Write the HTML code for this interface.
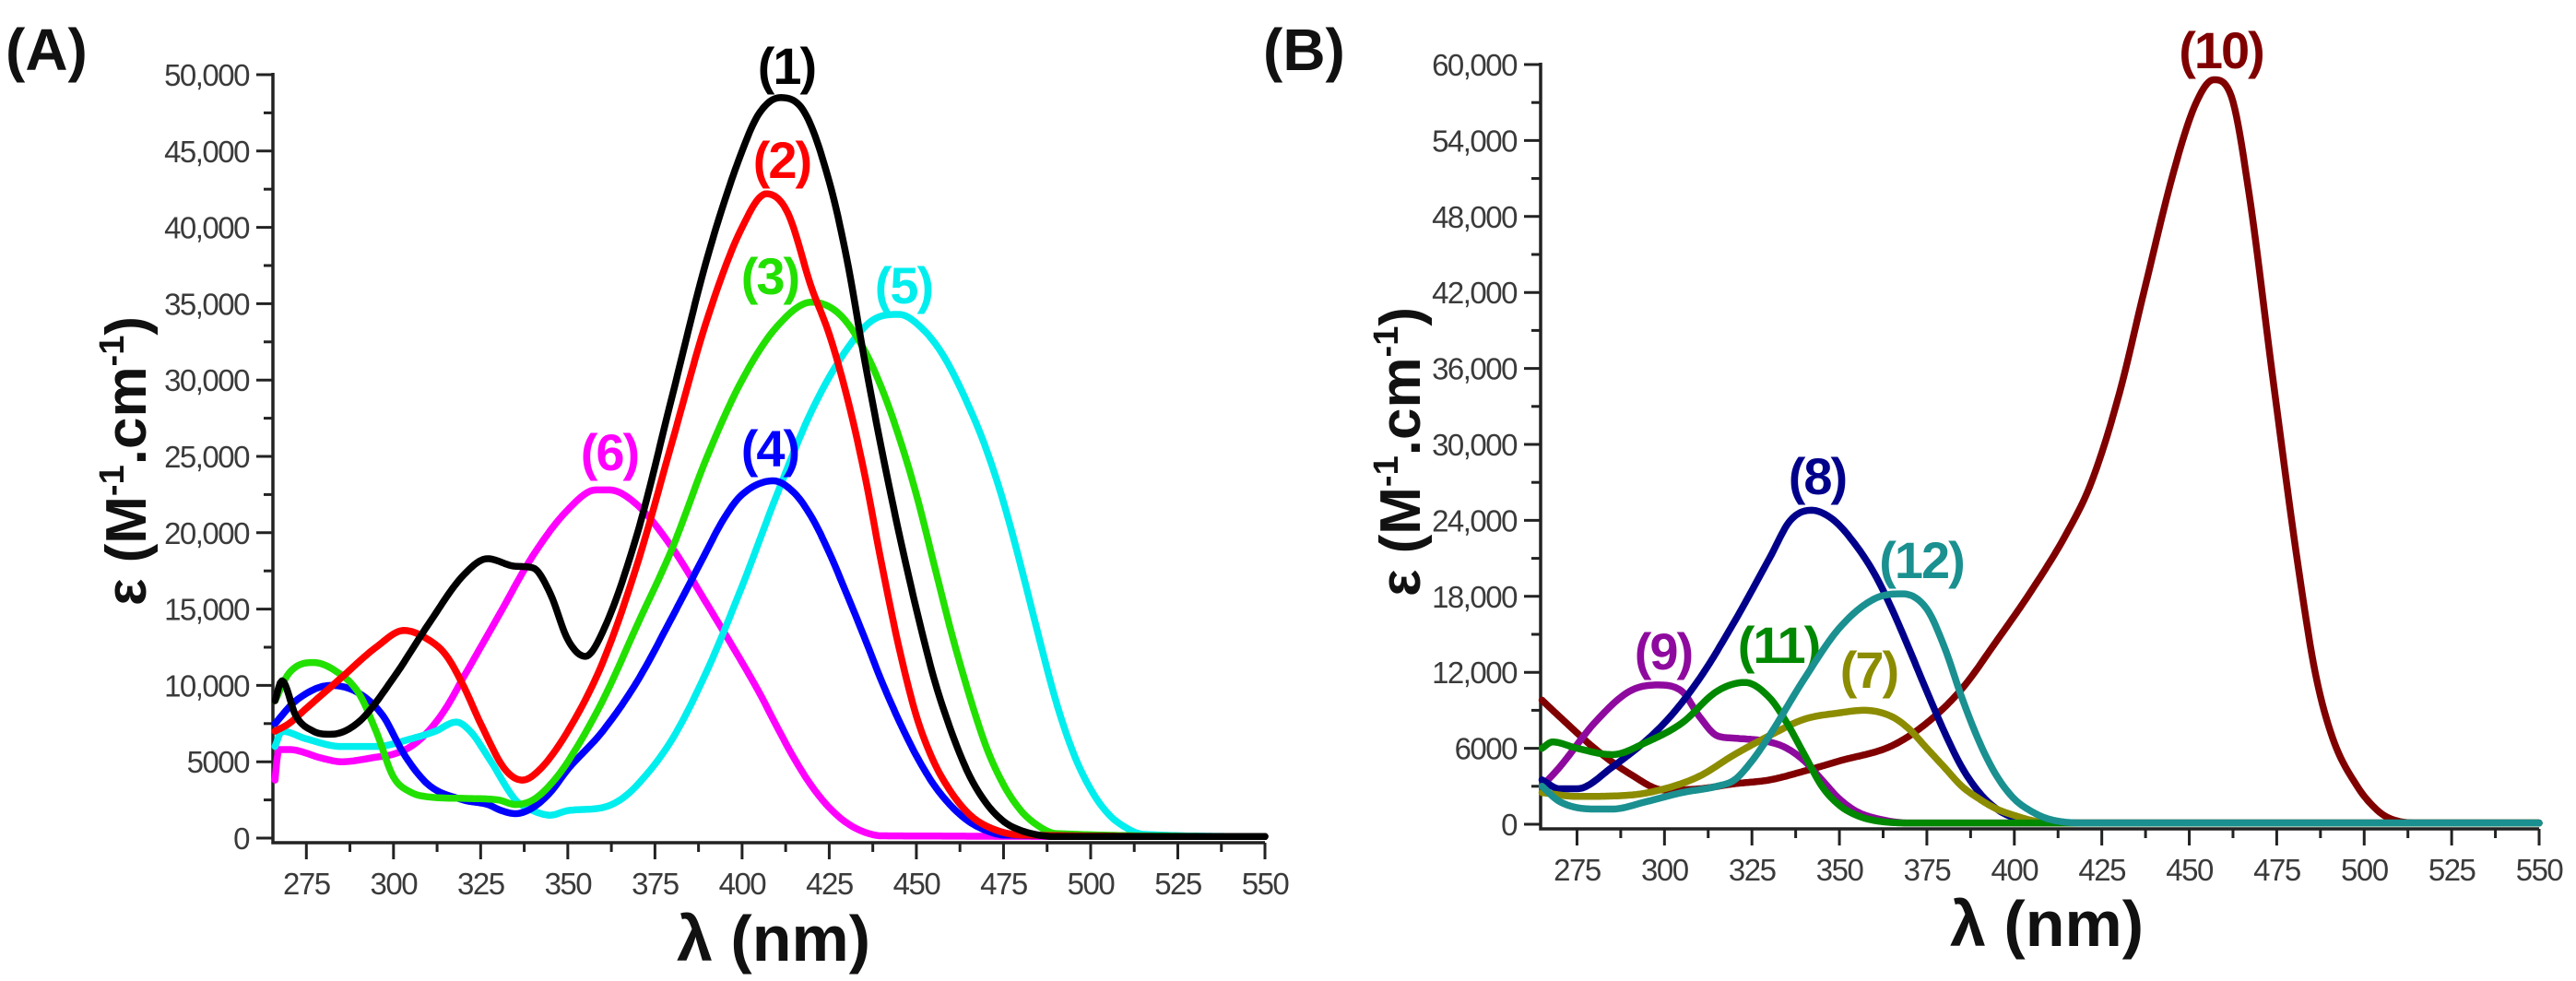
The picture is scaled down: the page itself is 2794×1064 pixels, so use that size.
<!DOCTYPE html>
<html><head><meta charset="utf-8"><style>
html,body{margin:0;padding:0;background:#fff;}
svg{display:block;}
.tk{font-family:"Liberation Sans Narrow","Liberation Sans",sans-serif;font-size:33px;fill:#3a3a3a;letter-spacing:-1.5px;}
.ttl{font-family:"Liberation Sans",sans-serif;font-weight:bold;fill:#111;}
.lbl{font-family:"Liberation Sans",sans-serif;font-weight:bold;font-size:56px;letter-spacing:-2px;}
</style></head><body>
<svg id="chart" width="2794" height="1064" viewBox="0 0 2794 1064" xmlns="http://www.w3.org/2000/svg">
<text class="ttl" x="6" y="76" font-size="64">(A)</text>
<text class="ttl" x="1370" y="76" font-size="64">(B)</text>
<text class="ttl" font-size="62" transform="translate(158,500) rotate(-90)" text-anchor="middle">ε (M<tspan font-size="38" dy="-24">-1</tspan><tspan dy="24">.cm</tspan><tspan font-size="38" dy="-24">-1</tspan><tspan dy="24">)</tspan></text>
<text class="ttl" font-size="70" x="839" y="1042" text-anchor="middle">λ (nm)</text>
<text class="ttl" font-size="62" transform="translate(1540,490) rotate(-90)" text-anchor="middle">ε (M<tspan font-size="38" dy="-24">-1</tspan><tspan dy="24">.cm</tspan><tspan font-size="38" dy="-24">-1</tspan><tspan dy="24">)</tspan></text>
<text class="ttl" font-size="70" x="2220" y="1026" text-anchor="middle">λ (nm)</text>
<g id="gA"></g><g id="gB"></g>
</svg>
<script>
// ---- Panel A data (wavelength nm, epsilon in thousands) ----
const xTicksA = [275,300,325,350,375,400,425,450,475,500,525,550];
const yTicksA = [0,5000,10000,15000,20000,25000,30000,35000,40000,45000,50000];
const yTickLabelsA = ["0","5000","10,000","15,000","20,000","25,000","30,000","35,000","40,000","45,000","50,000"];
const s1x = [266,268,272,277,282,290,300,310,320,327,335,340,345,350,355,360,370,380,390,400,405,411,418,425,430,435,440,445,450,455,460,465,470,475,480,490,550];
const s1y = [9,10.3,8,7,6.8,7.6,10.5,14,17.2,18.3,17.8,17.7,16,13,11.9,13.5,20,29,38,45,47.5,48.5,47.5,43,38,31.5,25.5,20,15,10.5,7,4.2,2.3,1.1,0.5,0.1,0.1];
const s2x = [266,270,275,285,295,303,310,315,320,325,332,337,342,350,360,370,380,390,400,407,413,420,425,430,435,440,445,450,455,460,465,470,480,550];
const s2y = [7,7.5,8.5,10.5,12.5,13.6,13,12,10,7.5,4.5,3.8,4.5,7,11.5,18,26,34,40,42.2,41,36,33,29,24,18,12.5,8,5,3,1.6,0.8,0.2,0.1];
const s3x = [266,270,277,283,290,295,300,305,310,320,330,335,340,345,350,360,370,380,390,400,410,420,428,435,440,445,450,455,460,465,470,475,480,485,490,550];
const s3y = [9,10.8,11.5,11,9.5,7,4,3,2.7,2.6,2.5,2.2,2.5,3.5,5,9,14,19,25,30,33.5,35.1,34.3,32,29.5,26.3,22.5,18,13.5,9.5,6,3.5,1.8,0.8,0.3,0.1];
const s4x = [266,272,282,290,297,303,310,320,327,331,335,340,345,350,360,370,380,388,395,400,409,415,420,425,430,435,440,445,450,455,460,465,470,475,550];
const s4y = [7.5,9,10,9.5,8,5.5,3.5,2.5,2.2,1.8,1.6,2,3,4.5,7,10.3,14.5,18,21,22.5,23.4,22.6,21,18.7,16,13.2,10.3,7.7,5.4,3.5,2.1,1.1,0.5,0.2,0.1];
const s5x = [266,268,275,285,295,305,312,318,322,328,335,340,345,350,360,365,370,380,390,400,410,420,430,438,445,452,458,465,470,475,480,485,490,495,500,505,510,515,550];
const s5y = [6,7,6.5,6,6,6.5,7,7.6,7,5,2.5,1.8,1.5,1.8,2,2.5,3.5,6.5,11,16.5,22.5,28,32,34,34.3,33.3,31.5,28.3,25.5,22,17.8,13.3,9,5.6,3.2,1.6,0.7,0.25,0.1];
const s6x = [266,267,270,280,285,295,300,305,310,315,320,330,340,350,358,362,370,380,390,400,405,410,415,420,425,430,435,440,550];
const s6y = [3.8,5.8,5.8,5.2,5,5.3,5.5,6,7,8.5,10.5,14.5,18.5,21.5,22.8,22.8,21.8,19,15.3,11.5,9.5,7.3,5.2,3.4,2,1,0.4,0.15,0.1];
// ---- Panel B data ----
const xTicksB = [275,300,325,350,375,400,425,450,475,500,525,550];
const yTicksB = [0,6000,12000,18000,24000,30000,36000,42000,48000,54000,60000];
const yTickLabelsB = ["0","6000","12,000","18,000","24,000","30,000","36,000","42,000","48,000","54,000","60,000"];
const s7x = [265,275,290,300,310,320,330,340,350,357,365,370,375,380,385,390,395,400,405,410,550];
const s7y = [2.5,2.2,2.3,2.8,3.8,5.5,7,8.3,8.8,9,8.5,7.5,6,4.5,3,2,1.2,0.7,0.3,0.1,0.1];
const s8x = [265,270,275,285,300,310,320,330,336,342,348,354,360,365,370,375,380,385,390,395,400,405,410,550];
const s8y = [3.5,2.8,2.8,4.5,8,11.5,16,21,24,24.8,24.1,22.3,19.8,17,13.8,10.5,7.3,4.5,2.5,1.2,0.5,0.2,0.1,0.1];
const s9x = [265,270,280,290,298,305,310,315,320,330,335,340,345,350,355,360,370,550];
const s9y = [3,4.5,8,10.5,11,10.5,8.5,7,6.8,6.5,6,5,3.5,2,1,0.5,0.1,0.1];
const s10x = [265,270,280,290,300,310,320,330,340,350,365,375,385,395,405,415,422,430,437,446,452,457,462,467,474,481,486,491,498,503,507,515,550];
const s10y = [9.8,8.5,6,4,2.7,2.8,3.2,3.5,4.2,5,6.2,8,10.7,14.5,18.5,23,27,34,42,52,57,58.8,57.5,50,35,20.6,12,6.8,3,1.3,0.5,0.1,0.1];
const s11x = [265,268,275,285,295,305,315,323,330,335,340,345,350,355,360,370,550];
const s11y = [6,6.5,6,5.5,6.5,8,10.5,11.2,10,8,5.5,3,1.5,0.7,0.3,0.1,0.1];
const s12x = [265,270,280,285,295,305,315,320,325,330,340,350,360,368,375,380,385,390,395,400,405,410,420,550];
const s12y = [3,1.8,1.2,1.2,1.8,2.5,3,3.5,5,7,11.5,15.5,17.8,18.2,17,14,10,6.5,3.8,2,1,0.4,0.1,0.1];

const NS = "http://www.w3.org/2000/svg";
function mk(tag, attrs, parent){const e=document.createElementNS(NS,tag);for(const k in attrs)e.setAttribute(k,attrs[k]);parent.appendChild(e);return e;}

function monotone(xs, ys){
  const n=xs.length, d=[], m=new Array(n);
  for(let i=0;i<n-1;i++) d.push((ys[i+1]-ys[i])/(xs[i+1]-xs[i]));
  m[0]=d[0]; m[n-1]=d[n-2];
  for(let i=1;i<n-1;i++){ m[i] = (d[i-1]*d[i]<=0)?0:(d[i-1]+d[i])/2; }
  for(let i=0;i<n-1;i++){
    if(d[i]===0){m[i]=0;m[i+1]=0;continue;}
    const a=m[i]/d[i], b=m[i+1]/d[i], s=a*a+b*b;
    if(s>9){const t=3/Math.sqrt(s);m[i]=t*a*d[i];m[i+1]=t*b*d[i];}
  }
  return function(x){
    let i=0; while(i<n-2 && x>xs[i+1]) i++;
    const h=xs[i+1]-xs[i], t=(x-xs[i])/h, t2=t*t, t3=t2*t;
    return (2*t3-3*t2+1)*ys[i]+(t3-2*t2+t)*h*m[i]+(-2*t3+3*t2)*ys[i+1]+(t3-t2)*h*m[i+1];
  };
}

function panel(g, cfg){
  const xs = nm => cfg.x0 + (nm - cfg.nmMin)/(550-cfg.nmMin)*(cfg.x1-cfg.x0);
  const ys = v => cfg.y0 - v/cfg.vMax*(cfg.y0-cfg.yTop);
  const ax = mk('path',{d:`M${cfg.x0},${cfg.yTop-2} L${cfg.x0},${cfg.axY} L${cfg.x1},${cfg.axY}`,stroke:'#222','stroke-width':3.5,fill:'none'},g);
  
  
  cfg.xt.forEach((t,i)=>{
    const x = xs(t);
    const tk = mk('line',{x1:x,x2:x,y1:cfg.axY,y2:cfg.axY+18,stroke:'#222','stroke-width':3},g);
    
    
    const xm = xs(t-12.5);
    if (xm>cfg.x0) { const m = mk('line',{x1:xm,x2:xm,y1:cfg.axY,y2:cfg.axY+10,stroke:'#222','stroke-width':3},g);
      
       }
    const tx = mk('text',{x:x,y:cfg.axY+56,'text-anchor':'middle',class:'tk'},g);
    tx.textContent = t;
    
    
  });
  cfg.yt.forEach((t,i)=>{
    const y = ys(t/1000);
    const tk = mk('line',{x1:cfg.x0-18,x2:cfg.x0,y1:y,y2:y,stroke:'#222','stroke-width':3},g);
    
    
    if (i>0){ const ym = ys((t - cfg.yt[1]/2)/1000);
      const m = mk('line',{x1:cfg.x0-10,x2:cfg.x0,y1:ym,y2:ym,stroke:'#222','stroke-width':3},g);
      
       }
    const tx = mk('text',{x:cfg.x0-26,y:y+12,'text-anchor':'end',class:'tk'},g);
    tx.textContent = cfg.yl[i];
    
    
  });
  cfg.series.forEach(s=>{
    const f = monotone(s.x, s.y);
    let d = '';
    for(let nm=s.x[0]; nm<=550; nm+=0.5){
      d += (d?' L':'M') + xs(nm).toFixed(1) + ',' + ys(f(nm)).toFixed(1);
    }
    const path = mk('path',{d:d,stroke:s.c,'stroke-width':7.5,fill:'none','stroke-linejoin':'round','stroke-linecap':'round'},g);
    
    
    const t = mk('text',{x:s.lx,y:s.ly+20,'text-anchor':'middle',class:'lbl',fill:s.c},g);
    t.textContent = '('+s.n+')';
    
    
  });
}
panel(document.getElementById('gA'),{p:'panel-a',x0:296,x1:1372,nmMin:265.4,y0:909,yTop:81,vMax:50,axY:914,
  xt:xTicksA,yt:yTicksA,yl:yTickLabelsA,series:[
  {n:6,x:s6x,y:s6y,c:'#ff00ff',lx:661,ly:490},
  {n:5,x:s5x,y:s5y,c:'#00eeee',lx:980,ly:309},
  {n:4,x:s4x,y:s4y,c:'#0000ff',lx:835,ly:486},
  {n:3,x:s3x,y:s3y,c:'#22e000',lx:835,ly:299},
  {n:2,x:s2x,y:s2y,c:'#ff0000',lx:848,ly:173},
  {n:1,x:s1x,y:s1y,c:'#000000',lx:853,ly:71}]});
panel(document.getElementById('gB'),{p:'panel-b',x0:1671,x1:2754,nmMin:264.6,y0:894,yTop:70,vMax:60,axY:899,
  xt:xTicksB,yt:yTicksB,yl:yTickLabelsB,series:[
  {n:10,x:s10x,y:s10y,c:'#800000',lx:2409,ly:54},
  {n:9,x:s9x,y:s9y,c:'#8e0a9e',lx:1804,ly:706},
  {n:8,x:s8x,y:s8y,c:'#00008b',lx:1971,ly:516},
  {n:7,x:s7x,y:s7y,c:'#8c8c00',lx:2027,ly:726},
  {n:11,x:s11x,y:s11y,c:'#008800',lx:1929,ly:699},
  {n:12,x:s12x,y:s12y,c:'#1a9090',lx:2084,ly:607}]});
</script>
</body></html>
